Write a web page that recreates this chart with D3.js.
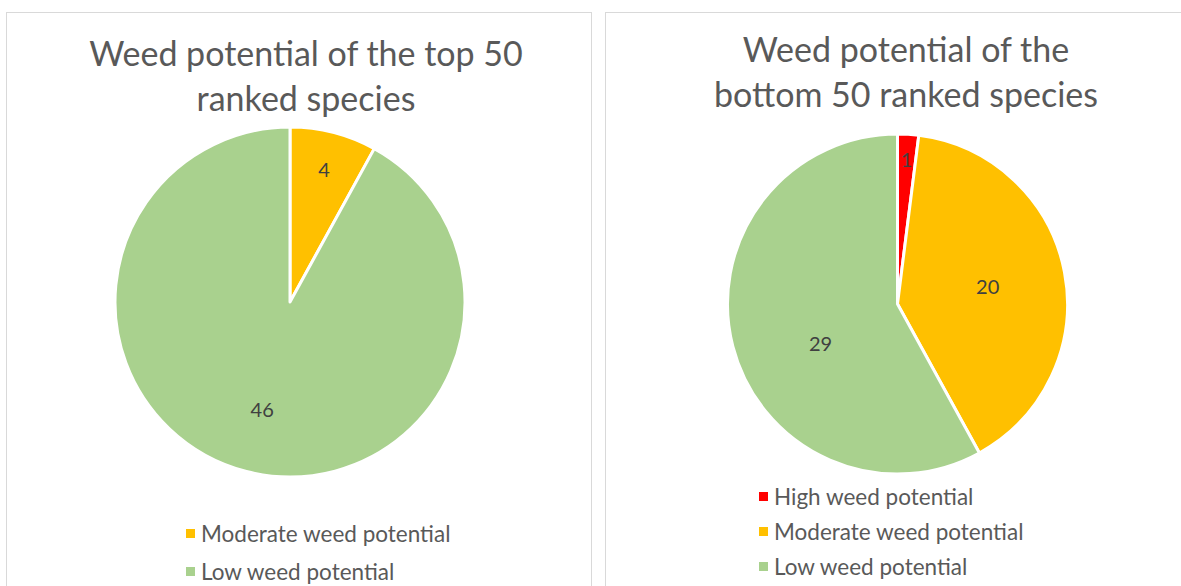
<!DOCTYPE html>
<html>
<head>
<meta charset="utf-8">
<script src="https://cdnjs.cloudflare.com/ajax/libs/d3/7.8.5/d3.min.js"></script>
<style>
  body { margin: 0; background: #fff; }
  svg { display: block; font-family: Lato, "Open Sans", sans-serif; }
</style>
</head>
<body>
<div id="chart"></div>
<script>
// data
var topCategories = ["Moderate weed potential", "Low weed potential"];
var topValues = [4, 46];
var topColors = ["#FFC000", "#A9D18E"];
var topTitle = ["Weed potential of the top 50", "ranked species"];

var bottomCategories = ["High weed potential", "Moderate weed potential", "Low weed potential"];
var bottomValues = [1, 20, 29];
var bottomColors = ["#FF0000", "#FFC000", "#A9D18E"];
var bottomTitle = ["Weed potential of the", "bottom 50 ranked species"];

var width = 1181,
  height = 586;

var svg = d3.select("#chart")
  .append("svg")
  .attr("width", width)
  .attr("height", height);

// one panel per chart
function drawPie(opt) {
  var g = svg.append("g");

  g.append("rect")
    .attr("x", opt.box[0] + 0.5)
    .attr("y", opt.box[1] + 0.5)
    .attr("width", opt.box[2])
    .attr("height", opt.box[3])
    .attr("fill", "#fff")
    .attr("stroke", "#d9d9d9")
    .attr("stroke-width", 1);

  g.selectAll("text.title")
    .data(opt.title)
    .enter()
    .append("text")
    .attr("class", "title")
    .attr("x", opt.titleX)
    .attr("y", function(d, i) { return opt.titleY + i * 45; })
    .attr("text-anchor", "middle")
    .attr("fill", "#595959")
    .style("font-size", "34px")
    .text(function(d) { return d; });

  var pie = d3.pie().sort(null).value(function(d) { return d; });
  var arcs = pie(opt.values);
  var arc = d3.arc().innerRadius(0).outerRadius(opt.r);

  var pieG = g.append("g")
    .attr("transform", "translate(" + opt.cx + "," + opt.cy + ")");

  pieG.selectAll("path")
    .data(arcs)
    .enter()
    .append("path")
    .attr("d", arc)
    .attr("fill", function(d, i) { return opt.colors[i]; })
    .attr("stroke", "#fff")
    .attr("stroke-width", 3)
    .attr("stroke-linejoin", "round");

  // labels placed along each slice, with a small angle nudge where Excel's best fit moved them
  pieG.selectAll("text")
    .data(arcs)
    .enter()
    .append("text")
    .attr("transform", function(d, i) {
      var lr = opt.r * opt.labelR[i];
      var a = (d.startAngle + d.endAngle) / 2 + (opt.labelShift[i] || 0) * Math.PI / 180;
      return "translate(" + (Math.sin(a) * lr) + "," + (-Math.cos(a) * lr) + ")";
    })
    .attr("text-anchor", "middle")
    .attr("dy", "0.35em")
    .attr("fill", "#404040")
    .style("font-size", "20px")
    .text(function(d) { return d.data; });

  var leg = g.selectAll("g.leg")
    .data(opt.categories)
    .enter()
    .append("g")
    .attr("class", "leg")
    .attr("transform", function(d, i) {
      return "translate(" + opt.legX + "," + (opt.legY + i * opt.legStep) + ")";
    });
  leg.append("rect")
    .attr("x", 0)
    .attr("y", -5)
    .attr("width", 9)
    .attr("height", 9)
    .attr("fill", function(d, i) { return opt.colors[i]; });
  leg.append("text")
    .attr("x", 15)
    .attr("dy", "0.35em")
    .attr("fill", "#595959")
    .style("font-size", "22.5px")
    .text(function(d) { return d; });
}

drawPie({
  box: [6, 12, 585, 600],
  title: topTitle,
  titleX: 306,
  titleY: 66,
  values: topValues,
  colors: topColors,
  categories: topCategories,
  cx: 290, cy: 302, r: 175,
  labelR: [0.78, 0.64],
  labelShift: [0, 0],
  legX: 186, legY: 534, legStep: 38
});

drawPie({
  box: [605, 12, 600, 600],
  title: bottomTitle,
  titleX: 906,
  titleY: 62,
  values: bottomValues,
  colors: bottomColors,
  categories: bottomCategories,
  cx: 897.5, cy: 304, r: 170,
  labelR: [0.85, 0.54, 0.51],
  labelShift: [0, 0, -13],
  legX: 759, legY: 497, legStep: 35
});
</script>
</body>
</html>
